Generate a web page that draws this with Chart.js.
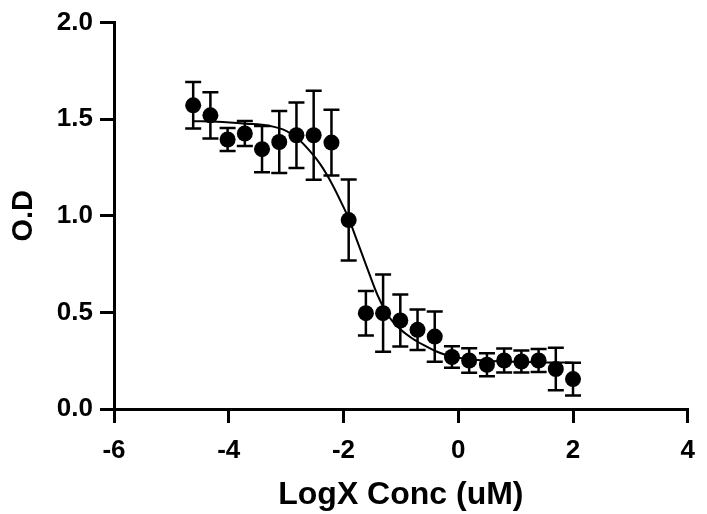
<!DOCTYPE html>
<html>
<head>
<meta charset="utf-8">
<script src="https://cdn.jsdelivr.net/npm/chart.js@4/dist/chart.umd.min.js"></script>
<style>
  html, body { margin: 0; padding: 0; background: #fff; }
  #wrap { width: 707px; height: 514px; }
</style>
</head>
<body>
<div id="wrap"><canvas id="myChart"></canvas></div>
<script>
// measured points (log concentration, mean O.D, SD)
const logConc = [-4.62, -4.32, -4.02, -3.72, -3.42, -3.12, -2.82, -2.52, -2.21, -1.91, -1.61, -1.31,
                 -1.01, -0.71, -0.41, -0.11, 0.19, 0.5, 0.8, 1.1, 1.4, 1.7, 2.0];
const odMean = [1.572, 1.52, 1.395, 1.426, 1.345, 1.382, 1.417, 1.417, 1.379, 0.978, 0.496, 0.496,
                0.458, 0.41, 0.375, 0.269, 0.251, 0.229, 0.251, 0.246, 0.251, 0.207, 0.155];
const odSd = [0.12, 0.12, 0.06, 0.065, 0.12, 0.16, 0.17, 0.23, 0.17, 0.21, 0.115, 0.2,
              0.135, 0.105, 0.13, 0.056, 0.064, 0.06, 0.062, 0.057, 0.06, 0.11, 0.085];

// fitted curve
const fitX = [-4.62, -4.2, -3.7, -3.3, -3.0, -2.8, -2.6, -2.4, -2.2, -2.0, -1.9, -1.8, -1.6, -1.4,
              -1.2, -1.0, -0.8, -0.6, -0.4, -0.2, 0, 0.5, 1.0, 1.5, 2.0];
const fitY = [1.49, 1.487, 1.477, 1.466, 1.44, 1.40, 1.34, 1.265, 1.165, 1.045, 0.98, 0.9, 0.74, 0.585,
              0.475, 0.41, 0.365, 0.33, 0.30, 0.278, 0.265, 0.25, 0.244, 0.241, 0.24];

const xRange = [-6, 4];
const yRange = [0, 2];

const FONT = "'Liberation Sans', Arial, sans-serif";

/**
 * Error bars with caps, drawn under the points
 */
const errorBarPlugin = {
    id: 'errorBars',
    beforeDatasetsDraw(chart) {
        const { ctx, scales: { x, y } } = chart;
        ctx.save();
        ctx.strokeStyle = '#000';
        ctx.lineWidth = 2.5;
        logConc.forEach((c, i) => {
            const px = x.getPixelForValue(c);
            const top = y.getPixelForValue(odMean[i] + odSd[i]);
            const bot = y.getPixelForValue(odMean[i] - odSd[i]);
            ctx.beginPath();
            ctx.moveTo(px, top);
            ctx.lineTo(px, bot);
            ctx.moveTo(px - 8, top);
            ctx.lineTo(px + 8, top);
            ctx.moveTo(px - 8, bot);
            ctx.lineTo(px + 8, bot);
            ctx.stroke();
        });
        ctx.restore();
    }
};

const axisCommon = {
    type: 'linear',
    grid: { drawOnChartArea: false, color: '#000', lineWidth: 3, tickLength: 14 },
    border: { color: '#000', width: 3 },
};

new Chart(document.getElementById('myChart'), {
    type: 'scatter',
    data: {
        datasets: [{
            data: logConc.map((c, i) => ({ x: c, y: odMean[i] })),
            backgroundColor: '#000',
            borderWidth: 0,
            pointRadius: 8,
            order: 0
        }, {
            type: 'line',
            data: fitX.map((c, i) => ({ x: c, y: fitY[i] })),
            borderColor: '#000',
            borderWidth: 2,
            pointRadius: 0,
            fill: false,
            cubicInterpolationMode: 'monotone',
            order: 1
        }]
    },
    options: {
        responsive: true,
        maintainAspectRatio: false,
        animation: false,
        layout: { padding: { top: 22, right: 14, left: 0, bottom: 0 } },
        plugins: { legend: { display: false }, tooltip: { enabled: false } },
        scales: {
            x: {
                ...axisCommon,
                min: xRange[0],
                max: xRange[1],
                afterFit: (scale) => { scale.height = 105; },
                ticks: {
                    stepSize: 2,
                    color: '#000',
                    padding: 12,
                    maxRotation: 0,
                    font: { family: FONT, size: 26, weight: 'bold' }
                },
                title: {
                    display: true,
                    text: 'LogX Conc (uM)',
                    color: '#000',
                    padding: { top: 0, bottom: 0 },
                    font: { family: FONT, size: 32, weight: 'bold', lineHeight: 1.2 }
                }
            },
            y: {
                ...axisCommon,
                min: yRange[0],
                max: yRange[1],
                afterFit: (scale) => { scale.width = 114; },
                ticks: {
                    stepSize: 0.5,
                    color: '#000',
                    padding: 7,
                    callback: (v) => v.toFixed(1),
                    font: { family: FONT, size: 26, weight: 'bold' }
                },
                title: {
                    display: true,
                    text: 'O.D',
                    color: '#000',
                    padding: { top: 7, bottom: 0 },
                    font: { family: FONT, size: 29, weight: 'bold', lineHeight: 1.2 }
                }
            }
        }
    },
    plugins: [errorBarPlugin]
});
</script>
</body>
</html>
